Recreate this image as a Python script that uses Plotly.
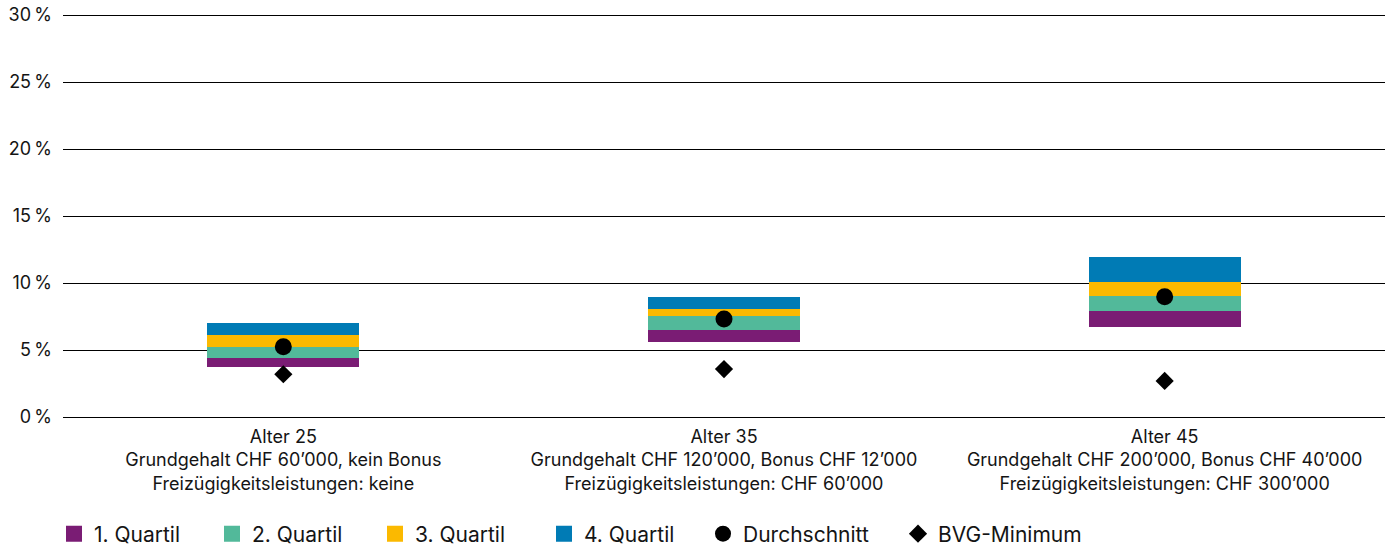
import plotly.graph_objects as go

categories = [
    "Alter 25<br>Grundgehalt CHF 60’000, kein Bonus<br>Freizügigkeitsleistungen: keine",
    "Alter 35<br>Grundgehalt CHF 120’000, Bonus CHF 12’000<br>Freizügigkeitsleistungen: CHF 60’000",
    "Alter 45<br>Grundgehalt CHF 200’000, Bonus CHF 40’000<br>Freizügigkeitsleistungen: CHF 300’000",
]
# quartile boundaries (percent)
q_min = [3.75, 5.62, 6.74]
q1_top = [4.40, 6.49, 7.91]
q2_top = [5.20, 7.54, 9.03]
q3_top = [6.12, 8.06, 10.07]
q4_top = [7.04, 8.96, 11.94]
durchschnitt = [5.25, 7.31, 8.98]
bvg_minimum = [3.19, 3.58, 2.69]

y_tick_values = [0, 5, 10, 15, 20, 25, 30]
y_tick_labels = ["0\u2009%", "5\u2009%", "10\u2009%", "15\u2009%", "20\u2009%", "25\u2009%", "30\u2009%"]

series_names = ["1. Quartil", "2. Quartil", "3. Quartil", "4. Quartil"]
colors = ["#7A1C74", "#52B99A", "#FBB900", "#007BB5"]

bounds = [q_min, q1_top, q2_top, q3_top, q4_top]

FONT = "Inter"
TXT = "#141414"
fig = go.Figure()

# invisible base
fig.add_trace(go.Bar(x=categories, y=q_min,
                     marker=dict(color="rgba(0,0,0,0)", line=dict(width=0, color="rgba(0,0,0,0)")),
                     showlegend=False, hoverinfo="skip"))
for i, (name, col) in enumerate(zip(series_names, colors)):
    heights = [t - b for t, b in zip(bounds[i + 1], bounds[i])]
    fig.add_trace(go.Bar(x=categories, y=heights, name=name,
                         marker=dict(color=col, line=dict(width=0)),
                         showlegend=False, hoverinfo="skip"))

# legend positions (container px of symbol centre)
legend_ids = ["legend", "legend2", "legend3", "legend4", "legend5", "legend6"]
legend_centers = [74, 232, 395, 564, 723, 918]

for k, (name, col) in enumerate(zip(series_names, colors)):
    fig.add_trace(go.Scatter(x=[None], y=[None], mode="markers", name=name, legend=legend_ids[k],
                             marker=dict(symbol="square", size=16, color=col)))

fig.add_trace(go.Scatter(x=categories, y=durchschnitt, mode="markers", name="Durchschnitt",
                         legend=legend_ids[4], hoverinfo="skip",
                         marker=dict(symbol="circle", size=17, color="black")))
fig.add_trace(go.Scatter(x=categories, y=bvg_minimum, mode="markers", name="BVG-Minimum",
                         legend=legend_ids[5], hoverinfo="skip",
                         marker=dict(symbol="diamond", size=14, color="black")))

W, H = 1394, 547
legend_layouts = {}
for lid, cx in zip(legend_ids, legend_centers):
    legend_layouts[lid] = dict(
        orientation="h", xref="container", yref="container",
        x=(cx - 20) / W, xanchor="left", y=1 - 534 / H, yanchor="middle",
        font=dict(size=21, family=FONT, color=TXT), itemwidth=30,
        bgcolor="rgba(0,0,0,0)", borderwidth=0,
    )

fig.update_layout(
    width=W, height=H,
    margin=dict(l=63, r=9, t=14, b=130),
    plot_bgcolor="white", paper_bgcolor="white",
    barmode="stack", bargap=0.655,
    font=dict(family=FONT, color=TXT),
    **legend_layouts,
)
fig.update_yaxes(range=[0, 30.08], tickmode="array", tickvals=y_tick_values, ticktext=y_tick_labels,
                 showgrid=True, gridcolor="black",
                 gridwidth=1, zeroline=True, zerolinecolor="black", zerolinewidth=1, showline=False,
                 ticks="", tickfont=dict(size=18, family=FONT, color=TXT), ticklabelstandoff=10,
                 automargin=False, fixedrange=True)
fig.update_xaxes(showgrid=False, showline=False, ticks="", tickfont=dict(size=18, family=FONT, color=TXT),
                 ticklabelstandoff=7, automargin=False, fixedrange=True)

fig.write_html("out.html")
